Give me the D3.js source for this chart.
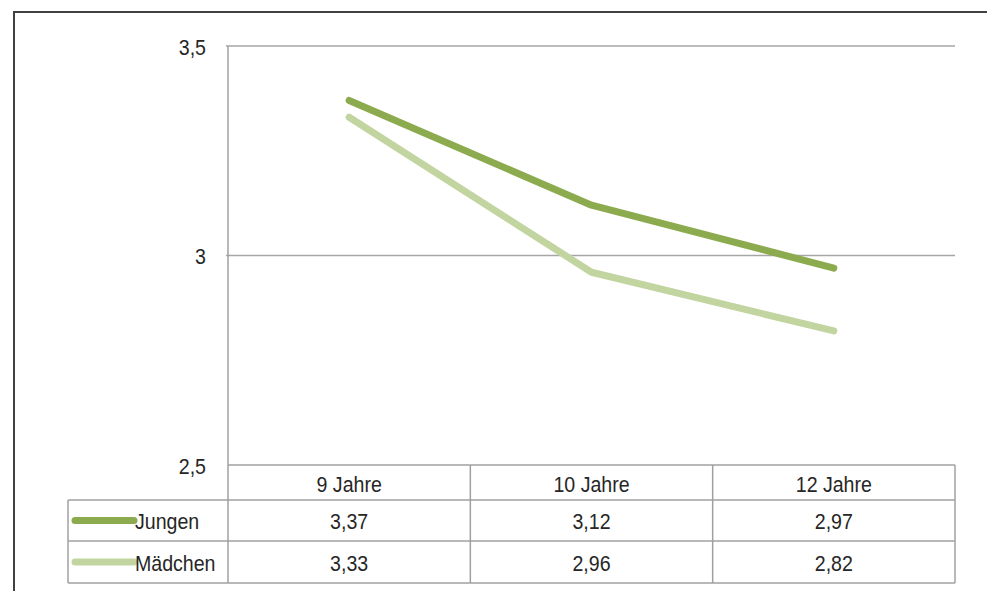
<!DOCTYPE html>
<html><head><meta charset="utf-8">
<script src="https://cdn.jsdelivr.net/npm/d3@7"></script>
<style>body{margin:0;background:#fff}svg{display:block}text{font-family:"Liberation Sans",Arial,sans-serif;fill:#262626}</style>
</head><body>
<svg id="c" width="987" height="591"></svg>
<script>
const categories = ["9 Jahre", "10 Jahre", "12 Jahre"];
const seriesNames = ["Jungen", "Mädchen"];
const jungen = [3.37, 3.12, 2.97];
const maedchen = [3.33, 2.96, 2.82];
const seriesColors = ["#8cab4e", "#c2d5a0"];
const yTicks = [2.5, 3, 3.5];
const yTickLabels = ["2,5", "3", "3,5"];

const FS = 22.5, SX = 0.87;
const svg = d3.select("#c");
const fmt = v => d3.format(".2f")(v).replace(".", ",");
const series = [jungen, maedchen];
const place = (sel, fx, fy) => sel.attr("transform", (d, i) => `translate(${fx(d, i)},${fy(d, i)}) scale(${SX},1)`)
  .attr("dy", "0.35em").attr("font-size", FS);

const L = 228, R = 955, T = 46, B = 465;
const x = d3.scaleBand().domain(categories).range([L, R]);
const y = d3.scaleLinear().domain([2.5, 3.5]).range([B, T]);

// outer frame
svg.append("path").attr("d", "M14,591V12H987").attr("fill", "none").attr("stroke", "#404040").attr("stroke-width", 2);

// gridlines
svg.append("g").selectAll("line").data(yTicks.slice(1)).join("line")
  .attr("x1", L - 2).attr("x2", R).attr("y1", d => y(d)).attr("y2", d => y(d))
  .attr("stroke", "#a6a6a6").attr("stroke-width", 1.5);

// y labels
place(svg.append("g").selectAll("text").data(yTicks).join("text")
  .attr("text-anchor", "end").text((d, i) => yTickLabels[i]), () => 206, d => y(d) + 1);

// table geometry
const headTop = y(2.5), headBot = 500, row1 = 541, row2 = 583, labL = 68;
const tg = svg.append("g").attr("stroke", "#a0a0a0").attr("stroke-width", 1.5).attr("fill", "none");
tg.append("line").attr("x1", L).attr("x2", L).attr("y1", T).attr("y2", row2);
tg.append("line").attr("x1", L).attr("x2", R).attr("y1", headTop).attr("y2", headTop);
tg.append("line").attr("x1", labL).attr("x2", R).attr("y1", headBot).attr("y2", headBot);
tg.append("line").attr("x1", labL).attr("x2", R).attr("y1", row1).attr("y2", row1);
tg.append("line").attr("x1", labL).attr("x2", R).attr("y1", row2).attr("y2", row2);
tg.append("line").attr("x1", labL).attr("x2", labL).attr("y1", headBot).attr("y2", row2);
tg.selectAll("line.col").data(categories).join("line").attr("class", "col")
  .attr("x1", d => x(d) + x.bandwidth()).attr("x2", d => x(d) + x.bandwidth())
  .attr("y1", headTop).attr("y2", row2);

// header text
place(svg.append("g").selectAll("text").data(categories).join("text")
  .attr("text-anchor", "middle").text(d => d),
  d => x(d) + x.bandwidth() / 2, () => (headTop + headBot) / 2 + 2);

const rowMid = [(headBot + row1) / 2, (row1 + row2) / 2];
series.forEach((vals, si) => {
  const g = svg.append("g");
  g.append("line").attr("x1", 75).attr("x2", 134).attr("y1", rowMid[si]).attr("y2", rowMid[si])
    .attr("stroke", seriesColors[si]).attr("stroke-width", 7).attr("stroke-linecap", "round");
  place(g.append("text").datum(seriesNames[si]).text(d => d), () => 135, () => rowMid[si] + 1);
  place(g.selectAll("text.v").data(vals).join("text").attr("class", "v")
    .attr("text-anchor", "middle").text(d => fmt(d)),
    (d, i) => x(categories[i]) + x.bandwidth() / 2, () => rowMid[si] + 1);
});

const line = d3.line().x((d, i) => x(categories[i]) + x.bandwidth() / 2).y(d => y(d));
[1, 0].forEach(si => {
  svg.append("path").datum(series[si]).attr("d", line).attr("fill", "none")
    .attr("stroke", seriesColors[si]).attr("stroke-width", 7)
    .attr("stroke-linecap", "round").attr("stroke-linejoin", "round");
});
</script>
</body></html>
